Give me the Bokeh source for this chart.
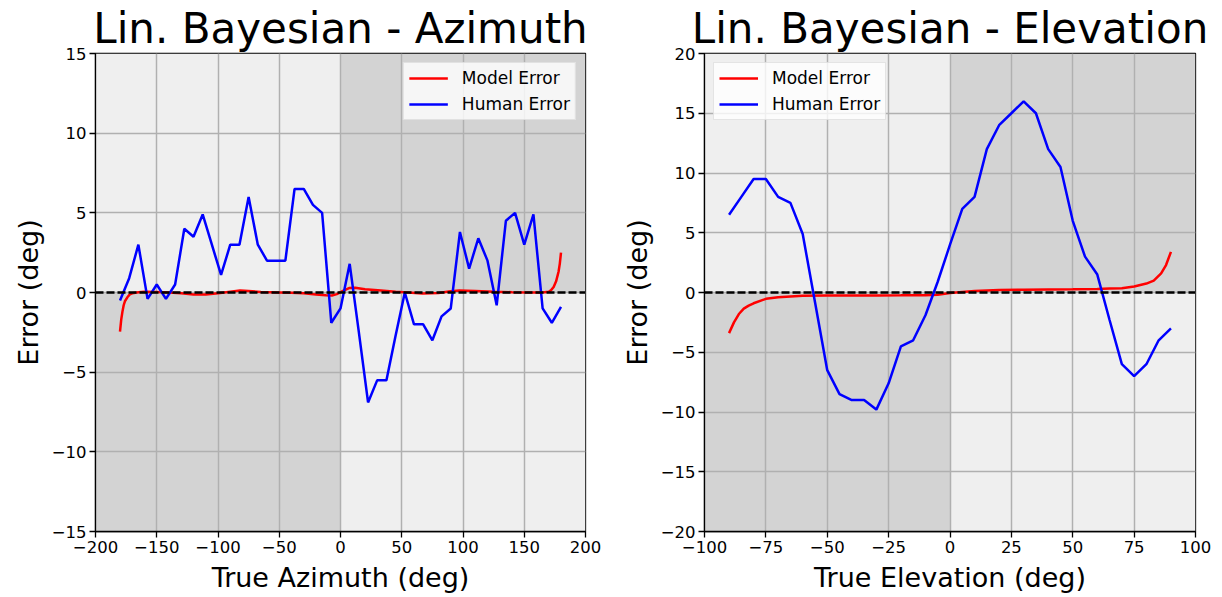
from bokeh.plotting import figure
from bokeh.layouts import row
from bokeh.models import (ColumnDataSource, Range1d, FixedTicker, Span, Legend,
                          LegendItem, CustomJSTickFormatter)
from bokeh.embed import file_html
from bokeh.resources import INLINE

# ---- Azimuth data ----
az_x = [-180, -172.5, -165, -157.5, -150, -142.5, -135, -127.5, -120, -112.5,
        -105, -97.5, -90, -82.5, -75, -67.5, -60, -52.5, -45, -37.5,
        -30, -22.5, -15, -7.5, 0, 7.5, 15, 22.5, 30, 37.5,
        45, 52.5, 60, 67.5, 75, 82.5, 90, 97.5, 105, 112.5,
        120, 127.5, 135, 142.5, 150, 157.5, 165, 172.5, 180]
az_human = [-0.5, 0.9, 3.0, -0.4, 0.5, -0.4, 0.5, 4.0, 3.5, 4.9,
            3.0, 1.1, 3.0, 3.0, 6.0, 3.0, 2.0, 2.0, 2.0, 6.5,
            6.5, 5.5, 5.0, -1.9, -1.0, 1.8, -2.5, -6.9, -5.5, -5.5,
            -2.7, 0.0, -2.0, -2.0, -3.0, -1.5, -1.0, 3.8, 1.5, 3.4,
            2.0, -0.8, 4.5, 5.0, 3.0, 4.9, -1.0, -1.9, -0.9]
az_model_x = [-180, -179, -178, -177, -176, -174, -172, -170, -165, -160,
              -150, -140, -130, -120, -110, -100, -90, -82, -75, -65,
              -50, -40, -30, -20, -12, -7, -3, 2, 7, 12,
              20, 33, 45, 55, 67, 80, 90, 97, 110, 125,
              140, 155, 165, 170, 172, 174, 176, 178, 179, 180]
az_model = [-2.45, -1.7, -1.2, -0.8, -0.55, -0.3, -0.12, -0.05, 0.02, 0.05,
            0.03, 0.0, -0.05, -0.12, -0.12, -0.05, 0.05, 0.13, 0.1, 0.03,
            0.0, -0.02, -0.05, -0.12, -0.18, -0.19, -0.1, 0.1, 0.28, 0.3,
            0.2, 0.13, 0.05, 0.0, -0.06, -0.03, 0.08, 0.13, 0.1, 0.05,
            0.02, 0.0, 0.0, 0.05, 0.15, 0.35, 0.7, 1.3, 1.8, 2.5]

# ---- Elevation data ----
el_x = [-90, -85, -80, -75, -70, -65, -60, -55, -50, -45,
        -40, -35, -30, -25, -20, -15, -10, -5, 0, 5,
        10, 15, 20, 25, 30, 35, 40, 45, 50, 55,
        60, 65, 70, 75, 80, 85, 90]
el_human = [6.5, 8.0, 9.5, 9.5, 8.0, 7.5, 4.9, -0.8, -6.5, -8.5,
            -9.0, -9.0, -9.8, -7.6, -4.5, -4.0, -1.9, 0.9, 4.0, 7.0,
            8.0, 12.0, 14.0, 15.0, 16.0, 15.0, 12.0, 10.5, 6.0, 3.0,
            1.5, -2.3, -6.0, -7.0, -6.0, -4.0, -3.0]
el_model_x = [-90, -88, -86, -84, -82, -80, -75, -70, -60, -50,
              -40, -30, -20, -10, -5, 0, 5, 10, 20, 30,
              40, 50, 60, 65, 70, 75, 80, 83, 86, 88, 90]
el_model = [-3.4, -2.5, -1.8, -1.35, -1.1, -0.9, -0.53, -0.4, -0.27, -0.25,
            -0.25, -0.25, -0.24, -0.22, -0.18, -0.05, 0.05, 0.12, 0.2, 0.23,
            0.25, 0.27, 0.3, 0.33, 0.36, 0.5, 0.75, 1.0, 1.6, 2.3, 3.4]

az_xticks = [-200, -150, -100, -50, 0, 50, 100, 150, 200]
az_yticks = [-15, -10, -5, 0, 5, 10, 15]
el_xticks = [-100, -75, -50, -25, 0, 25, 50, 75, 100]
el_yticks = [-20, -15, -10, -5, 0, 5, 10, 15, 20]

FONT = "DejaVu Sans"
LIGHT = "#efefef"
DARK = "#d3d3d3"

minus_fmt = CustomJSTickFormatter(code="""
    const v = Math.round(tick * 100) / 100;
    return v < 0 ? "\u2212" + Math.abs(v) : String(v);
""")


def make_panel(title, xlabel, xticks, yticks, xs, human, mx, model,
               legend_loc, width, border_left, border_right):
    x0, x1 = xticks[0], xticks[-1]
    y0, y1 = yticks[0], yticks[-1]
    p = figure(width=width, height=597, output_backend="svg",
               toolbar_location=None,
               x_range=Range1d(x0, x1), y_range=Range1d(y0, y1),
               min_border_left=border_left, min_border_right=border_right,
               min_border_top=53, min_border_bottom=66)
    p.title.text = title
    p.title.text_font = FONT
    p.title.text_font_size = "42px"
    p.title.text_font_style = "normal"
    p.title.text_color = "black"
    p.title.align = "center"
    p.title.standoff = 2

    # quadrant shading: same-sign quadrants dark, others light
    quads = ColumnDataSource(dict(
        left=[x0, 0, x0, 0], right=[0, x1, 0, x1],
        bottom=[y0, 0, 0, y0], top=[0, y1, y1, 0],
        color=[DARK, DARK, LIGHT, LIGHT]))
    p.quad(left="left", right="right", bottom="bottom", top="top",
           fill_color="color", line_color=None, source=quads, level="image")

    r_model = p.line(mx, model, line_color="#ff0000", line_width=2.5)
    p.add_layout(Span(location=0, dimension="width", line_color="black",
                      line_width=2.5, line_dash="8 3"))
    r_human = p.line(xs, human, line_color="#0000ff", line_width=2.5)

    legend = Legend(items=[LegendItem(label="Model Error", renderers=[r_model]),
                           LegendItem(label="Human Error", renderers=[r_human])],
                    location=legend_loc, margin=9, padding=5, spacing=6,
                    glyph_width=39, glyph_height=20, label_height=20,
                    label_standoff=14, label_text_font=FONT,
                    label_text_font_size="17px", label_text_color="black",
                    background_fill_color="white", background_fill_alpha=0.8,
                    border_line_color="#cccccc", border_line_width=1)
    p.add_layout(legend, "center")

    p.xaxis.ticker = FixedTicker(ticks=xticks)
    p.yaxis.ticker = FixedTicker(ticks=yticks)
    p.xaxis.formatter = minus_fmt
    p.yaxis.formatter = minus_fmt
    p.xaxis.axis_label = xlabel
    p.yaxis.axis_label = "Error (deg)"
    for ax in (p.xaxis, p.yaxis):
        ax.axis_label_text_font = FONT
        ax.axis_label_text_font_size = "27px"
        ax.axis_label_text_font_style = "normal"
        ax.axis_label_text_color = "black"
        ax.major_label_text_font = FONT
        ax.major_label_text_font_size = "16.5px"
        ax.major_label_text_color = "black"
        ax.axis_line_color = "black"
        ax.axis_line_width = 1.3
        ax.major_tick_line_color = "black"
        ax.major_tick_line_width = 1.3
        ax.major_tick_out = 6
        ax.major_tick_in = 0
        ax.minor_tick_line_color = None
        ax.major_label_standoff = 3
    p.xaxis.axis_label_standoff = 6
    p.yaxis.axis_label_standoff = 5
    p.yaxis.major_label_orientation = "horizontal"

    p.grid.grid_line_color = "#b0b0b0"
    p.grid.grid_line_width = 1.5
    p.outline_line_color = "black"
    p.outline_line_width = 1.3
    p.outline_line_alpha = 1
    p.background_fill_color = "white"
    p.border_fill_color = "white"
    return p


p_az = make_panel("Lin. Bayesian - Azimuth", "True Azimuth (deg)",
                  az_xticks, az_yticks, az_x, az_human, az_model_x, az_model,
                  "top_right", 610, 95, 25)
p_el = make_panel("Lin. Bayesian - Elevation", "True Elevation (deg)",
                  el_xticks, el_yticks, el_x, el_human, el_model_x, el_model,
                  "top_left", 612, 94, 27)

layout = row(p_az, p_el)
open("out.html", "w").write(file_html(layout, INLINE))
